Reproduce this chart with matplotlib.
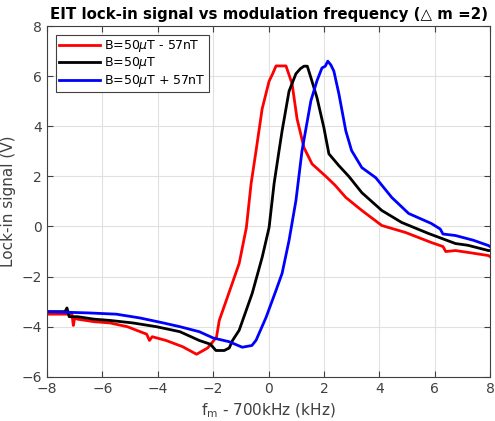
import matplotlib
matplotlib.use('Agg')
import matplotlib.pyplot as plt

# detuning f_m - 700 kHz (kHz) and lock-in signal (V)
x_red = [-8, -7.1, -7.05, -7.0, -6.9, -6.3, -5.73, -5.1, -4.4, -4.3, -4.2, -3.7, -3.1,
         -2.6, -2.2, -1.88, -1.78, -1.31, -1.06, -0.8, -0.63, -0.45, -0.23, 0.02, 0.15,
         0.27, 0.45, 0.63, 0.85, 1.03, 1.28, 1.57, 2.07, 2.4, 2.79, 3.37, 4.09, 4.95,
         5.88, 6.3, 6.4, 6.75, 7.3, 7.94, 8]
y_red = [-3.5, -3.5, -3.95, -3.65, -3.7, -3.8, -3.85, -4.0, -4.3, -4.55, -4.4, -4.55, -4.8,
         -5.1, -4.85, -4.42, -3.75, -2.27, -1.47, -0.04, 1.71, 3.03, 4.7, 5.8, 6.1,
         6.41, 6.41, 6.41, 5.7, 4.3, 3.15, 2.5, 2.0, 1.65, 1.16, 0.64, 0.04, -0.24,
         -0.64, -0.8, -1.0, -0.96, -1.05, -1.16, -1.2]

x_black = [-8, -7.35, -7.28, -7.2, -6.9, -6.3, -5.73, -4.9, -4.05, -3.2, -2.5, -2.1, -1.9,
           -1.6, -1.42, -1.3, -1.06, -0.59, -0.23, 0.02, 0.2, 0.38, 0.49, 0.74, 0.99, 1.15,
           1.28, 1.4, 1.53, 1.75, 2.0, 2.18, 2.54, 2.9, 3.37, 4.09, 4.81, 5.78, 6.75,
           7.2, 7.94, 8]
y_black = [-3.4, -3.4, -3.25, -3.6, -3.6, -3.7, -3.75, -3.85, -4.0, -4.2, -4.55, -4.7, -4.95,
           -4.95, -4.85, -4.55, -4.14, -2.67, -1.23, -0.04, 1.71, 3.03, 3.82, 5.4, 6.1, 6.3,
           6.4, 6.4, 5.94, 5.14, 3.94, 2.9, 2.43, 2.0, 1.35, 0.64, 0.16, -0.28, -0.68,
           -0.75, -0.96, -0.96]

x_blue = [-8, -6.5, -5.5, -4.65, -3.8, -3.2, -2.5, -2.0, -1.42, -0.95, -0.6, -0.45, -0.09,
          0.27, 0.49, 0.74, 0.99, 1.21, 1.53, 1.75, 1.93, 2.05, 2.14, 2.25, 2.36, 2.54,
          2.79, 3.0, 3.37, 3.87, 4.45, 5.06, 5.88, 6.2, 6.3, 6.75, 7.4, 7.94, 8]
y_blue = [-3.4, -3.45, -3.5, -3.65, -3.85, -4.0, -4.2, -4.45, -4.6, -4.82, -4.75, -4.54, -3.63,
          -2.55, -1.87, -0.56, 1.04, 3.03, 5.02, 5.82, 6.33, 6.4, 6.6, 6.45, 6.2, 5.3,
          3.82, 3.03, 2.35, 1.95, 1.16, 0.52, 0.12, -0.1, -0.3, -0.36, -0.55, -0.76, -0.8]

labels = ['B=50$\\mu$T - 57nT', 'B=50$\\mu$T', 'B=50$\\mu$T + 57nT']
colors = ['red', 'black', 'blue']

fig = plt.figure(figsize=(4.95, 4.21), dpi=100)
ax = fig.add_axes([0.095, 0.105, 0.895, 0.833])

for xs, ys, lab, c in zip([x_red, x_black, x_blue], [y_red, y_black, y_blue], labels, colors):
    ax.plot(xs, ys, color=c, linewidth=2, label=lab)

ax.set_xlim(-8, 8)
ax.set_ylim(-6, 8)
ax.set_xticks(range(-8, 9, 2))
ax.set_yticks(range(-6, 9, 2))
ax.grid(True, color='#e0e0e0', linewidth=0.8)
ax.set_axisbelow(True)
ax.tick_params(direction='in', top=True, right=True, labelsize=10, colors='#404040',
               length=4)
for s in ax.spines.values():
    s.set_color('#404040')
    s.set_linewidth(0.8)

ax.set_xlabel('f$_\\mathregular{m}$ - 700kHz (kHz)', fontsize=11, color='#404040')
ax.set_ylabel('Lock-in signal (V)', fontsize=11, color='#404040')
ax.set_title('EIT lock-in signal vs modulation frequency (\u25b3 m =2)', fontsize=10.8,
             fontweight='bold', pad=5)

leg = ax.legend(loc='upper left', fontsize=9, frameon=True, fancybox=False,
                edgecolor='#404040', handlelength=3.3, handletextpad=0.3, borderpad=0.25,
                labelspacing=0.12, borderaxespad=0.7, framealpha=1)
leg.get_frame().set_linewidth(0.8)

fig.savefig('out.png', dpi=100)
